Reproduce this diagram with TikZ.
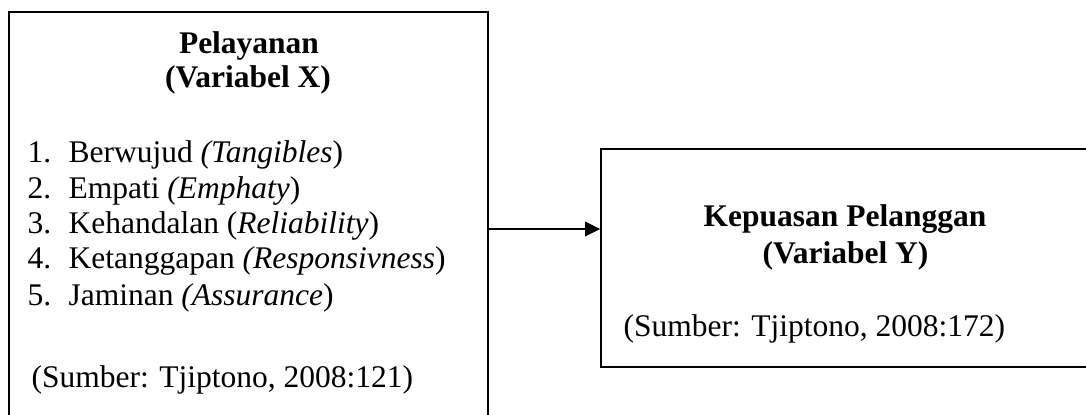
\documentclass[tikz,border=0pt]{standalone}
\usepackage{fontspec}
\setmainfont{Liberation Serif}
\usetikzlibrary{arrows.meta}
\newlength\pxu
\setlength\pxu{0.3175pt}
\newcommand\itemno[1]{\makebox[41\pxu][l]{#1}}
\begin{document}
\begin{tikzpicture}[x=0.3175pt,y=-0.3175pt,
  box/.style={draw, line width=0.54pt, inner sep=0pt},
  item/.style={anchor=base west, inner sep=0pt},
  title/.style={anchor=base, inner sep=0pt, font=\bfseries},
  flow/.style={line width=0.75pt, -{Triangle[length=4.8pt,width=4.6pt]}}]
\useasboundingbox (0,0) rectangle (1086,414);

\node[box, minimum width=479\pxu, minimum height=406\pxu] (lbox) at (248.5,215) {};
\node[box, minimum width=489\pxu, minimum height=218\pxu] (rbox) at (845.5,258) {};

% left box
\node[title] (xname) at (249,53) {Pelayanan};
\node[title] (xvar) at (248,87) {(Variabel X)};

\node[item] (dim1) at (27,162) {\itemno{1.}Berwujud \textit{(Tangibles})};
\node[item] (dim2) at (27,198) {\itemno{2.}Empati \textit{(Emphaty})};
\node[item] (dim3) at (27,233) {\itemno{3.}Kehandalan (\textit{Reliability})};
\node[item] (dim4) at (27,268) {\itemno{4.}Ketanggapan \textit{(Responsivness})};
\node[item] (dim5) at (27,305) {\itemno{5.}Jaminan \textit{(Assurance})};

\node[item] (xsrc) at (31,387) {(Sumber: Tjiptono, 2008:121)};

% right box
\node[title] (yname) at (845,226) {Kepuasan Pelanggan};
\node[title] (yvar) at (845.5,263) {(Variabel Y)};
\node[item] (ysrc) at (623,336) {(Sumber: Tjiptono, 2008:172)};

\coordinate (link) at (540,229);
\draw[flow] (lbox.east |- link) -- (rbox.west |- link);

\end{tikzpicture}
\end{document}
